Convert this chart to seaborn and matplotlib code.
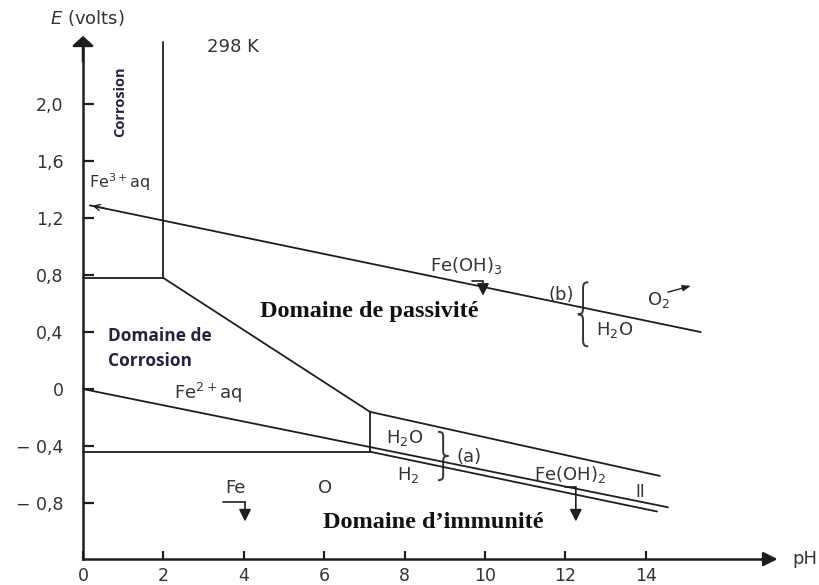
import matplotlib
matplotlib.use("Agg")
import matplotlib.pyplot as plt
from matplotlib.path import Path
from matplotlib.patches import PathPatch
import seaborn as sns
import pandas as pd

# Boundaries of the iron Pourbaix diagram (pH, E in volts)
ph_fe3_fe2 = [0.0, 2.0]
e_fe3_fe2 = [0.78, 0.78]
ph_vertical_2 = [2.0, 2.0]
e_vertical_2 = [0.78, 2.44]
ph_fe2_feoh3 = [2.0, 7.14]
e_fe2_feoh3 = [0.78, -0.16]
ph_feoh3_feoh2 = [7.14, 14.35]
e_feoh3_feoh2 = [-0.16, -0.61]
ph_vertical_7 = [7.14, 7.14]
e_vertical_7 = [-0.16, -0.44]
ph_fe2_fe = [0.0, 7.14]
e_fe2_fe = [-0.44, -0.44]
ph_feoh2_fe = [7.14, 14.28]
e_feoh2_fe = [-0.44, -0.86]
ph_water_a = [0.0, 14.55]
e_water_a = [0.0, -0.83]
ph_water_b = [0.17, 15.37]
e_water_b = [1.29, 0.40]

x_ticks = [0, 2, 4, 6, 8, 10, 12, 14]
x_tick_labels = ["0", "2", "4", "6", "8", "10", "12", "14"]
y_ticks = [-0.8, -0.4, 0.0, 0.4, 0.8, 1.2, 1.6, 2.0]
y_tick_labels = ["\u2212 0,8", "\u2212 0,4", "0", "0,4", "0,8", "1,2", "1,6", "2,0"]

sns.set_theme(style="white")
plt.rcParams["font.family"] = ["DejaVu Sans"]

INK = "#1e1e1e"
GREY = "#333333"
NAVY = "#23233f"

fig = plt.figure(figsize=(8.19, 5.85), dpi=100)
ax = fig.add_axes([0, 0, 1, 1])
ax.set_xlim(-2.065, 18.31)
ax.set_ylim(-1.376, 2.732)
ax.set_facecolor("white")

boundaries = [
    (ph_fe3_fe2, e_fe3_fe2),
    (ph_vertical_2, e_vertical_2),
    (ph_fe2_feoh3, e_fe2_feoh3),
    (ph_feoh3_feoh2, e_feoh3_feoh2),
    (ph_vertical_7, e_vertical_7),
    (ph_fe2_fe, e_fe2_fe),
    (ph_feoh2_fe, e_feoh2_fe),
    (ph_water_a, e_water_a),
    (ph_water_b, e_water_b),
]
for ph, e in boundaries:
    df = pd.DataFrame({"pH": ph, "E": e})
    sns.lineplot(data=df, x="pH", y="E", ax=ax, color=INK, lw=1.3,
                 sort=False, estimator=None)

# small arrow at the start of line (b)
ax.annotate("", xy=(ph_water_b[0], e_water_b[0]), xytext=(0.6, 1.265),
            arrowprops=dict(arrowstyle="->,head_length=0.35,head_width=0.18",
                            lw=1.0, color=INK))

# axes with arrows
x_axis_e = -1.194
ax.spines["top"].set_visible(False)
ax.spines["right"].set_visible(False)
ax.spines["left"].set_position(("data", 0))
ax.spines["bottom"].set_position(("data", x_axis_e))
ax.spines["left"].set_bounds(x_axis_e, 2.40)
ax.spines["bottom"].set_bounds(0, 17.0)
for s in ("left", "bottom"):
    ax.spines[s].set_color(INK)
    ax.spines[s].set_linewidth(1.8)
ax.annotate("", xy=(0, 2.48), xytext=(0, 2.30),
            arrowprops=dict(arrowstyle="-|>,head_length=0.5,head_width=0.55",
                            lw=1.8, color=INK, shrinkA=0, shrinkB=0))
ax.annotate("", xy=(17.28, x_axis_e), xytext=(16.9, x_axis_e),
            arrowprops=dict(arrowstyle="-|>,head_length=0.7,head_width=0.35",
                            lw=1.8, color=INK, shrinkA=0, shrinkB=0))

ax.set_xticks(x_ticks)
ax.set_xticklabels(x_tick_labels)
ax.set_yticks(y_ticks)
ax.set_yticklabels(y_tick_labels)
ax.tick_params(axis="y", direction="in", length=8, width=1.6, color=INK,
               pad=14, labelsize=12.5, labelcolor=GREY, left=True)
ax.tick_params(axis="x", direction="in", length=6, width=1.6, color=INK,
               pad=6, labelsize=12.5, labelcolor=GREY, bottom=True)
ax.set_xlabel("")
ax.set_ylabel("")
ax.grid(False)

lab = dict(color=GREY, fontsize=13, ha="center", va="center")
ax.text(17.95, x_axis_e, "pH", **lab)
ax.text(0.12, 2.605, "$\\it{E}$ (volts)", **lab)
ax.text(3.73, 2.40, "298 K", **lab)
ax.text(0.92, 1.45, "Fe$^{3+}$aq", color=GREY, fontsize=11.5, ha="center", va="center")
ax.text(3.11, -0.03, "Fe$^{2+}$aq", **lab)
ax.text(9.53, 0.87, "Fe(OH)$_3$", **lab)
ax.text(11.89, 0.66, "(b)", **lab)
ax.text(14.33, 0.625, "O$_2$", **lab)
ax.text(13.23, 0.414, "H$_2$O", **lab)
ax.text(8.01, -0.344, "H$_2$O", **lab)
ax.text(9.6, -0.478, "(a)", **lab)
ax.text(8.08, -0.604, "H$_2$", **lab)
ax.text(12.11, -0.597, "Fe(OH)$_2$", **lab)
ax.text(13.86, -0.72, "II", color=GREY, fontsize=12, ha="center", va="center")
ax.text(3.78, -0.695, "Fe", **lab)
ax.text(6.02, -0.695, "O", **lab)

# domain names
ax.text(0.92, 2.015, "Corrosion", rotation=90, color=NAVY, fontsize=10.5,
        fontweight="bold", family="Open Sans", ha="center", va="center")
ax.text(0.62, 0.285, "Domaine de\nCorrosion", color=NAVY, fontsize=12.5,
        fontweight="bold", family="Open Sans", ha="left", va="center",
        linespacing=1.55)
ax.text(7.12, 0.548, "Domaine de passivité", color="#111111", fontsize=17.5,
        fontweight="bold", family="Liberation Serif", ha="center", va="center")
ax.text(8.71, -0.94, "Domaine d\u2019immunité", color="#111111", fontsize=17.5,
        fontweight="bold", family="Liberation Serif", ha="center", va="center")


def hook_arrow(x0, x1, y0, y1):
    ax.plot([x0, x1], [y0, y0], color=INK, lw=1.2)
    ax.annotate("", xy=(x1, y1), xytext=(x1, y0),
                arrowprops=dict(arrowstyle="-|>,head_length=0.6,head_width=0.3",
                                lw=1.2, color=INK, shrinkA=0, shrinkB=0))


hook_arrow(9.68, 9.95, 0.758, 0.655)
hook_arrow(11.99, 12.26, -0.688, -0.93)
hook_arrow(3.48, 4.03, -0.794, -0.93)

# arrow next to O2
ax.annotate("", xy=(15.12, 0.725), xytext=(14.55, 0.68),
            arrowprops=dict(arrowstyle="-|>,head_length=0.4,head_width=0.15",
                            lw=1.0, color=INK, shrinkA=0, shrinkB=0))


def brace(xc, y0, y1, w, opening):
    """Curly brace from y0 to y1; opening='left' draws '{', 'right' draws '}'."""
    s = -1 if opening == "left" else 1
    ym = 0.5 * (y0 + y1)
    h = 0.12 * (y1 - y0)
    xt = xc + s * w / 2
    verts = [
        (xc - s * w * 0.5, y1),
        (xc, y1), (xc, y1 - h * 0.4), (xc, y1 - h),
        (xc, ym + h),
        (xc, ym + h * 0.4), (xc, ym), (xt, ym),
        (xc, ym), (xc, ym - h * 0.4), (xc, ym - h),
        (xc, y0 + h),
        (xc, y0 + h * 0.4), (xc, y0), (xc - s * w * 0.5, y0),
    ]
    codes = [Path.MOVETO,
             Path.CURVE4, Path.CURVE4, Path.CURVE4,
             Path.LINETO,
             Path.CURVE4, Path.CURVE4, Path.CURVE4,
             Path.CURVE4, Path.CURVE4, Path.CURVE4,
             Path.LINETO,
             Path.CURVE4, Path.CURVE4, Path.CURVE4]
    ax.add_patch(PathPatch(Path(verts, codes), fill=False, lw=1.4, ec=GREY))


brace(12.44, 0.30, 0.75, 0.26, "left")
brace(8.96, -0.64, -0.30, 0.26, "right")

fig.savefig("out.png", dpi=100, facecolor="white")
